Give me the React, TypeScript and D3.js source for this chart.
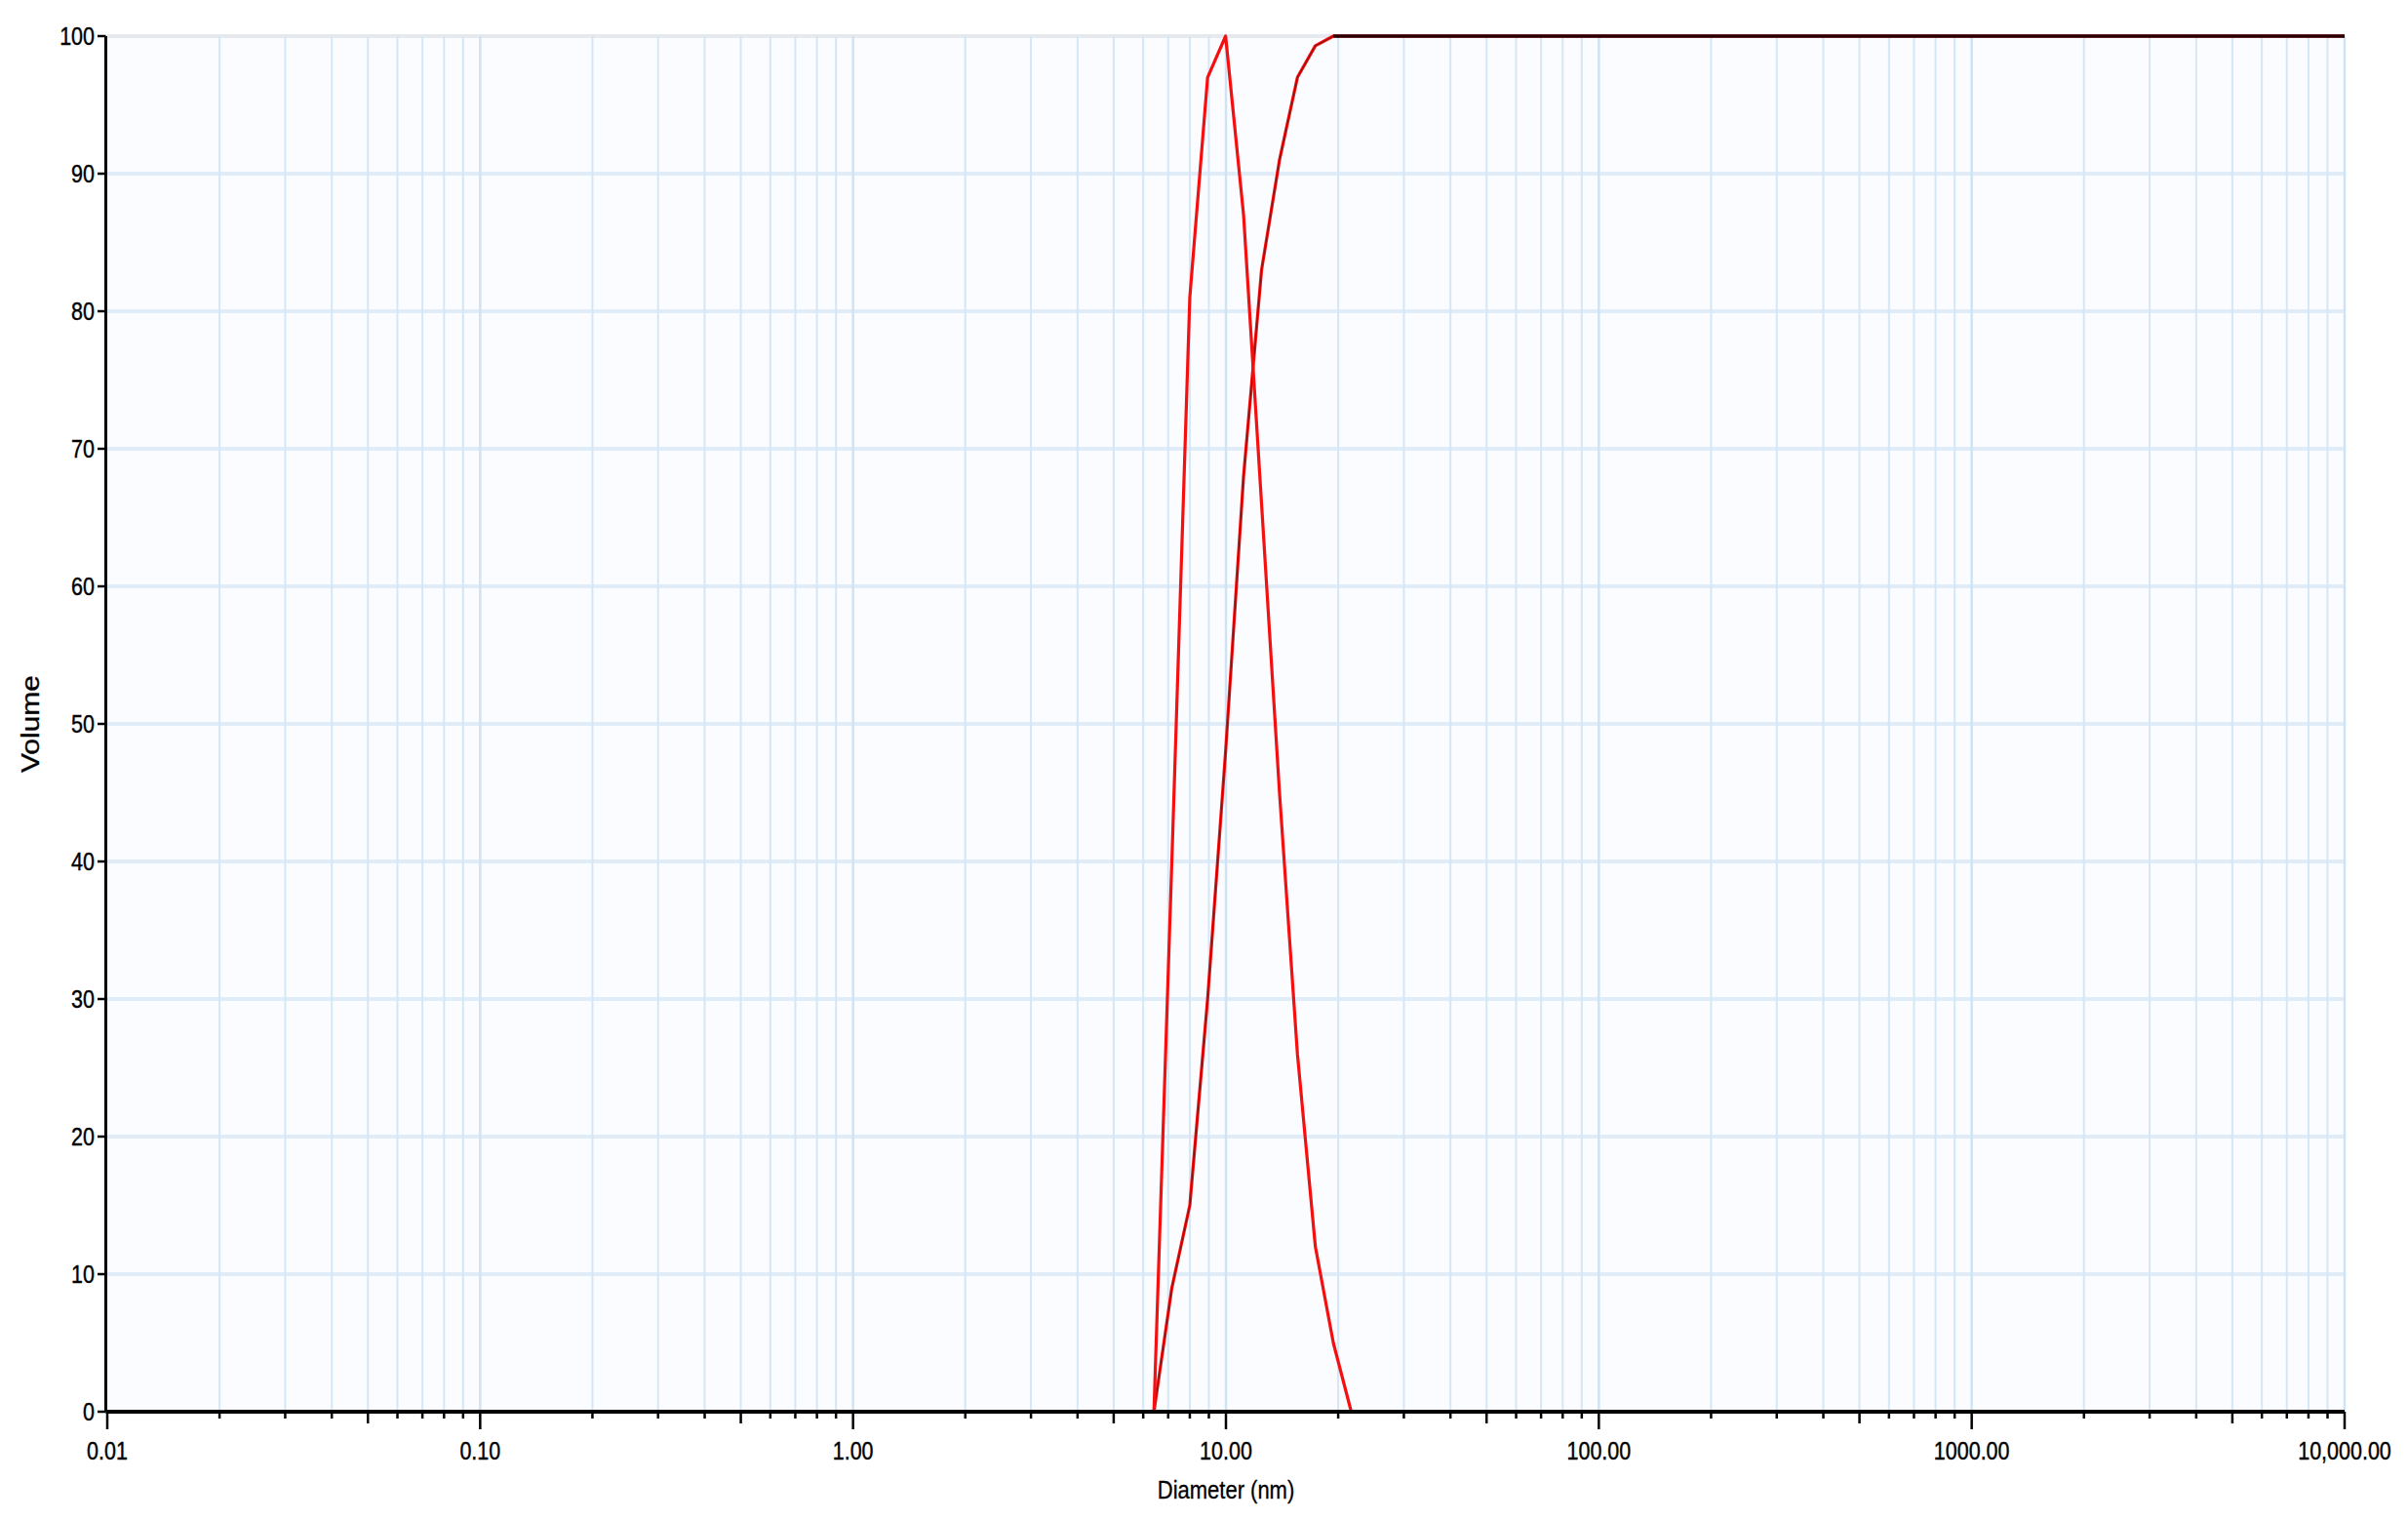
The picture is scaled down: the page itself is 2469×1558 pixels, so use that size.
import React from 'react';
import * as d3 from 'd3';

// size distribution (diameter in nm)
const freqSizes = [6.41, 7.16, 8.0, 8.93, 9.98, 11.15, 12.46, 13.92, 15.55, 17.37, 19.41, 21.68];
const freqValues = [0, 40, 81, 97, 100, 87, 66, 45, 26, 12, 5, 0];

const cumSizes = [0.01, 6.41, 7.16, 8.0, 8.93, 9.98, 11.15, 12.46, 13.92, 15.55, 17.37, 19.41, 10000];
const cumValues = [0, 0, 9, 15, 30, 48, 68, 83, 91, 97, 99.3, 100, 100];

const xTickValues = [0.01, 0.1, 1, 10, 100, 1000, 10000];
const xTickLabels = ['0.01', '0.10', '1.00', '10.00', '100.00', '1000.00', '10,000.00'];
const yTickValues = [0, 10, 20, 30, 40, 50, 60, 70, 80, 90, 100];

const W = 2469;
const H = 1558;
const margin = { left: 110, right: 65, top: 37, bottom: 111 };

const App = () => {
  const x = d3.scaleLog().domain([0.01, 10000]).range([margin.left, W - margin.right]);
  const y = d3.scaleLinear().domain([0, 100]).range([H - margin.bottom, margin.top]);

  const x0 = x.range()[0];
  const x1 = x.range()[1];
  const y0 = y.range()[0];
  const y1 = y.range()[1];

  // minor positions 2..9 of every decade
  const minor: number[] = [];
  xTickValues.slice(0, -1).forEach(d => {
    for (let k = 2; k <= 9; k++) minor.push(d * k);
  });

  const line = d3.line<[number, number]>()
    .x(d => x(d[0]))
    .y(d => y(d[1]));

  const freq = freqSizes.map((s, i) => [s, freqValues[i]] as [number, number]);
  const cum = cumSizes.map((s, i) => [s, cumValues[i]] as [number, number]);
  const cumTop = cum.filter(d => d[1] >= 100);

  const font = 'Liberation Sans, Arial, sans-serif';

  return (
    <svg width={W} height={H} style={{ position: 'absolute', left: 0, top: 0, background: '#fff' }}>
      <rect x={x0} y={y1} width={x1 - x0} height={y0 - y1} fill="#fafcff" />

      {/* grid */}
      {yTickValues.slice(1).map(v => (
        <line key={'h' + v} x1={x0} x2={x1} y1={y(v)} y2={y(v)}
          stroke={v === 100 ? '#e6e9ee' : '#e0ecf7'} strokeWidth={4} />
      ))}
      {minor.map(v => (
        <line key={'m' + v} x1={x(v)} x2={x(v)} y1={y1} y2={y0}
          stroke="#d4e7f6" strokeWidth={2} />
      ))}
      {xTickValues.slice(1).map(v => (
        <line key={'v' + v} x1={x(v)} x2={x(v)} y1={y1} y2={y0}
          stroke="#cfe3f4" strokeWidth={2.5} />
      ))}

      {/* curves */}
      <path d={line(cum) || ''} fill="none" stroke="#f41010" strokeWidth={3.2} strokeLinejoin="round" />
      <path d={line(cum) || ''} fill="none" stroke="#300000" strokeWidth={1.2} strokeOpacity={0.45} />
      <path d={line(cumTop) || ''} fill="none" stroke="#2a0000" strokeWidth={3.5} />
      <path d={line(freq) || ''} fill="none" stroke="#f41010" strokeWidth={3.2} strokeLinejoin="round" />

      {/* axes */}
      <line x1={x0 - 1.5} x2={x1} y1={y0} y2={y0} stroke="#000" strokeWidth={4} />
      <line x1={x0 - 1.5} x2={x0 - 1.5} y1={y1} y2={y0} stroke="#000" strokeWidth={3} />

      {yTickValues.map(v => (
        <g key={'yt' + v}>
          <line x1={x0 - 10} x2={x0 - 1.5} y1={y(v)} y2={y(v)} stroke="#000" strokeWidth={2.5} />
          <text transform={`translate(${x0 - 13},${y(v)}) scale(0.86,1)`} textAnchor="end"
            dominantBaseline="central" fontFamily={font} fontSize={25} fill="#000"
            stroke="#000" strokeWidth={0.4}>{v}</text>
        </g>
      ))}

      {minor.map(v => {
        const k = Math.round(v / Math.pow(10, Math.floor(Math.log10(v) + 1e-9)));
        return (
          <line key={'xt' + v} x1={x(v)} x2={x(v)} y1={y0} y2={y0 + (k === 5 ? 12 : 7)}
            stroke="#000" strokeWidth={2.5} />
        );
      })}
      {xTickValues.map((v, i) => (
        <g key={'xl' + v}>
          <line x1={x(v)} x2={x(v)} y1={y0} y2={y0 + 18} stroke="#000" strokeWidth={2.5} />
          <text transform={`translate(${x(v)},${y0 + 49}) scale(0.86,1)`} textAnchor="middle"
            fontFamily={font} fontSize={25} fill="#000" stroke="#000" strokeWidth={0.4}>{xTickLabels[i]}</text>
        </g>
      ))}

      <text transform={`translate(${x(10)},${y0 + 89}) scale(0.88,1)`} textAnchor="middle"
        fontFamily={font} fontSize={25} fill="#000" stroke="#000" strokeWidth={0.3}>Diameter (nm)</text>
      <text transform={`translate(40,${y(50)}) rotate(-90)`} textAnchor="middle"
        fontFamily={font} fontSize={25} textLength={100} lengthAdjust="spacingAndGlyphs"
        fill="#000" stroke="#000" strokeWidth={0.3}>Volume</text>
    </svg>
  );
};

export default App;
